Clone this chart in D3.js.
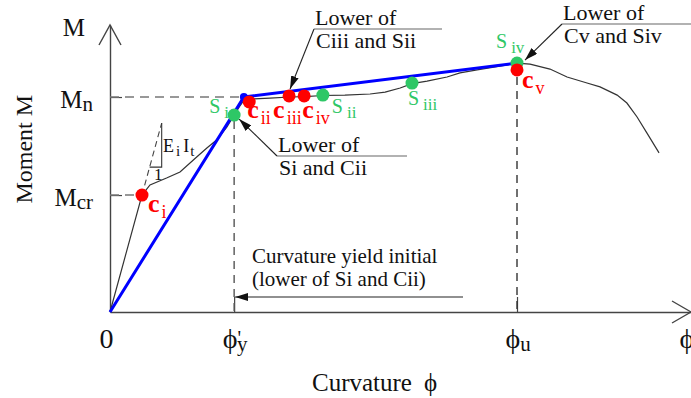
<!DOCTYPE html>
<html>
<head>
<meta charset="utf-8">
<script src="https://cdn.jsdelivr.net/npm/d3@7"></script>
<style>
  body { margin: 0; background: #fff; }
  svg { display: block; }
  svg text { font-family: "Liberation Serif", "DejaVu Serif", "Times New Roman", serif; }
</style>
</head>
<body>
<svg id="chart" width="691" height="398"></svg>
<script>
// Moment–curvature response of the section, normalised by φu (curvature) and Mn (moment)
const curvePhi = [0, 0.0786, 0.0983, 0.139, 0.172, 0.213, 0.238, 0.262, 0.287, 0.305, 0.318,
  0.327, 0.351, 0.393, 0.442, 0.479, 0.523, 0.577, 0.639, 0.676, 0.713, 0.742, 0.779, 0.828,
  0.860, 0.902, 0.958, 1.0, 1.032, 1.081, 1.123, 1.172, 1.204, 1.246, 1.270, 1.295, 1.319, 1.349];
const curveM = [0, 0.544, 0.591, 0.623, 0.651, 0.721, 0.763, 0.800, 0.860, 0.916, 0.955,
  0.980, 0.991, 0.995, 1.000, 1.002, 1.007, 1.009, 1.014, 1.023, 1.042, 1.062, 1.074, 1.093,
  1.112, 1.126, 1.144, 1.158, 1.153, 1.130, 1.093, 1.065, 1.047, 1.009, 0.972, 0.907, 0.833, 0.740];

// Idealised bilinear response
const idealPhi = [0, 0.329, 1.0];
const idealM = [0, 1.0, 1.158];

// Concrete limit states (red) and steel limit states (green)
const concreteNames = ["i", "ii", "iii", "iv", "v"];
const concretePhi = [0.0786, 0.342, 0.440, 0.477, 1.0];
const concreteM = [0.544, 0.977, 1.005, 1.005, 1.126];
const steelNames = ["i", "ii", "iii", "iv"];
const steelPhi = [0.305, 0.523, 0.742, 1.0];
const steelM = [0.916, 1.009, 1.065, 1.158];

// Axis ticks
const xTickValues = [0, 0.305, 1.0, 1.4275];
const xTickBase = ["0", "ϕ", "ϕ", "ϕ"];
const xTickPrime = ["", "'", "", ""];
const xTickSub = ["", "y", "u", ""];
const yTickValues = [0.544, 1.0, 1.335];
const yTickBase = ["M", "M", "M"];
const yTickSub = ["cr", "n", ""];

const RED = "#ff0000", GREEN = "#2ec766", BLUE = "#0000ff";

const svg = d3.select("#chart");
const x = d3.scaleLinear().domain([0, 1.4275]).range([110, 691]);
const y = d3.scaleLinear().domain([0, 1.335]).range([312, 25]);

const defs = svg.append("defs");
defs.append("marker").attr("id", "head")
  .attr("viewBox", "0 0 13 8").attr("refX", 13).attr("refY", 4)
  .attr("markerWidth", 13).attr("markerHeight", 8)
  .attr("markerUnits", "userSpaceOnUse").attr("orient", "auto")
  .append("path").attr("d", "M0,0 L13,4 L0,8 Z").attr("fill", "#111");

// ---- axes ----
const xAxis = d3.axisBottom(x).tickValues(xTickValues).tickSizeInner(-15).tickSizeOuter(0).tickFormat("");
const gx = svg.append("g").attr("transform", `translate(0,${y(0)})`).call(xAxis).attr("font-family", null);
const yAxis = d3.axisLeft(y).tickValues(yTickValues).tickSizeInner(-12).tickSizeOuter(0).tickFormat("");
const gy = svg.append("g").attr("transform", `translate(${x(0)},0)`).call(yAxis).attr("font-family", null);
[gx, gy].forEach(g => {
  g.select(".domain").attr("stroke", "#444").attr("stroke-width", 1.4);
  g.selectAll(".tick line").attr("stroke", "#444").attr("stroke-width", 1.2);
});
gx.selectAll(".tick").filter((d, i) => i === 0 || i === xTickValues.length - 1).select("line").remove();
gy.selectAll(".tick").filter((d, i) => i === yTickValues.length - 1).select("line").remove();

// x tick labels
gx.selectAll(".tick text").each(function (d, i) {
  const t = d3.select(this).attr("y", 36).attr("dy", null)
    .attr("font-size", 28).attr("fill", "#111")
    .attr("text-anchor", i === 0 ? "end" : "start")
    .attr("x", i === 0 ? 3 : -12);
  t.text(null);
  t.append("tspan").text(xTickBase[i]);
  if (xTickPrime[i]) t.append("tspan").attr("font-size", 20).attr("dy", -3).text(xTickPrime[i]);
  if (xTickSub[i]) t.append("tspan").attr("font-size", 21)
    .attr("dx", xTickPrime[i] ? -4 : 0).attr("dy", xTickPrime[i] ? 6 : 3).text(xTickSub[i]);
});

// y tick labels
gy.selectAll(".tick text").each(function (d, i) {
  const t = d3.select(this).attr("dy", null).attr("y", 10)
    .attr("font-size", 25).attr("fill", "#111")
    .attr("text-anchor", "end").attr("x", yTickSub[i] ? -17 : -25);
  t.text(null);
  t.append("tspan").text(yTickBase[i]);
  if (yTickSub[i]) t.append("tspan").attr("font-size", 21).attr("dy", 3).text(yTickSub[i]);
});

// axis arrowheads
svg.append("path")
  .attr("d", `M${x(0) - 11},${y(0) - 267} L${x(0)},${y(1.335)} L${x(0) + 11},${y(0) - 267}`)
  .attr("fill", "none").attr("stroke", "#444").attr("stroke-width", 1.4);
svg.append("path")
  .attr("d", `M${x(1.4275) - 19},${y(0) - 11} L${x(1.4275)},${y(0)} L${x(1.4275) - 19},${y(0) + 11}`)
  .attr("fill", "none").attr("stroke", "#444").attr("stroke-width", 1.4);

// axis titles
svg.append("text").attr("transform", `translate(32,${y(0.757)}) rotate(-90)`)
  .attr("text-anchor", "middle").attr("font-size", 24).attr("fill", "#111")
  .text("Moment M");
const xt = svg.append("text").attr("x", 312).attr("y", 391)
  .attr("font-size", 25).attr("fill", "#111");
xt.append("tspan").text("Curvature");
xt.append("tspan").attr("dx", 12).text("ϕ");

// ---- reference (dashed) lines ----
const guides = svg.append("g").attr("fill", "none").attr("stroke-dasharray", "9,6");
guides.append("line").attr("x1", x(0)).attr("x2", x(idealPhi[1])).attr("y1", y(1)).attr("y2", y(1))
  .attr("stroke", "#777").attr("stroke-width", 1.6);
guides.append("line").attr("x1", x(0)).attr("x2", x(concretePhi[0])).attr("y1", y(yTickValues[0])).attr("y2", y(yTickValues[0]))
  .attr("stroke", "#777").attr("stroke-width", 1.6);
guides.append("line").attr("x1", x(xTickValues[1])).attr("x2", x(xTickValues[1]))
  .attr("y1", y(steelM[0]) + 6).attr("y2", y(0))
  .attr("stroke", "#555").attr("stroke-width", 1.4).attr("stroke-dasharray", "8,6");
guides.append("line").attr("x1", x(1)).attr("x2", x(1))
  .attr("y1", y(concreteM[4]) + 7).attr("y2", y(0))
  .attr("stroke", "#333").attr("stroke-width", 1.4).attr("stroke-dasharray", "8,6");

// initial stiffness EiIt triangle
const k0 = concreteM[0] / concretePhi[0];
const triTop = 0.879, triBot = 0.674;
svg.append("line").attr("x1", x(concretePhi[0])).attr("y1", y(concreteM[0]))
  .attr("x2", x(triTop / k0)).attr("y2", y(triTop))
  .attr("stroke", "#444").attr("stroke-width", 1.1).attr("stroke-dasharray", "6,4");
svg.append("path")
  .attr("d", `M${x(triTop / k0)},${y(triTop)} V${y(triBot)} H${x(triBot / k0)}`)
  .attr("fill", "none").attr("stroke", "#333").attr("stroke-width", 1.1);
const ei = svg.append("text").attr("x", 163).attr("y", 152)
  .attr("font-size", 18).attr("fill", "#111");
ei.append("tspan").text("E");
ei.append("tspan").attr("dx", 2).attr("dy", 4).attr("font-size", 15).text("i");
ei.append("tspan").attr("dx", 3).attr("dy", -4).text("I");
ei.append("tspan").attr("dx", 1).attr("dy", 4).attr("font-size", 15).text("t");
svg.append("text").attr("x", 154).attr("y", 180)
  .attr("font-size", 17).attr("fill", "#111").text("1");

// ---- moment-curvature curve ----
const line = d3.line().x(d => x(d[0])).y(d => y(d[1]));
svg.append("path").datum(d3.zip(curvePhi, curveM))
  .attr("d", line).attr("fill", "none").attr("stroke", "#333").attr("stroke-width", 1.2);

// ---- bilinear idealisation ----
svg.append("path").datum(d3.zip(idealPhi, idealM))
  .attr("d", line).attr("fill", "none").attr("stroke", BLUE).attr("stroke-width", 3);
svg.append("circle").attr("cx", x(idealPhi[1])).attr("cy", y(idealM[1])).attr("r", 4).attr("fill", BLUE);

// ---- limit-state points ----
svg.append("g").selectAll("circle").data(d3.zip(steelPhi, steelM)).join("circle")
  .attr("cx", d => x(d[0])).attr("cy", d => y(d[1])).attr("r", 6.5).attr("fill", GREEN);
svg.append("g").selectAll("circle").data(d3.zip(concretePhi, concreteM)).join("circle")
  .attr("cx", d => x(d[0])).attr("cy", d => y(d[1])).attr("r", 6.5).attr("fill", RED);

// label offsets from each marker [dx, dy]
const concreteLabelOffset = [[6, 17], [-2, 16], [-16, 22], [-2, 22], [5, 18]];
const steelLabelOffset = [[-25, -2], [9, 18], [-4, 22], [-21, -15]];

concreteNames.forEach((n, i) => {
  const t = svg.append("text")
    .attr("x", x(concretePhi[i]) + concreteLabelOffset[i][0])
    .attr("y", y(concreteM[i]) + concreteLabelOffset[i][1])
    .attr("fill", RED);
  t.append("tspan").attr("font-size", 26).attr("font-weight", "bold").text("c");
  t.append("tspan").attr("font-size", 18).attr("dx", 2).attr("dy", 6).text(n);
});
steelNames.forEach((n, i) => {
  const t = svg.append("text")
    .attr("x", x(steelPhi[i]) + steelLabelOffset[i][0])
    .attr("y", y(steelM[i]) + steelLabelOffset[i][1])
    .attr("fill", GREEN);
  t.append("tspan").attr("font-size", 20).text("S");
  t.append("tspan").attr("font-size", 17).attr("dx", 4).attr("dy", 5).text(n);
});

// ---- callouts ----
function callout(lines, tx, ty, ruleEnd, tip) {
  const g = svg.append("g");
  g.append("text").attr("x", tx + 1).attr("y", ty - 4)
    .attr("font-size", 22).attr("fill", "#111").text(lines[0]);
  g.append("text").attr("x", tx + 2).attr("y", ty + 19)
    .attr("font-size", 22).attr("fill", "#111").text(lines[1]);
  g.append("line").attr("x1", tx).attr("x2", ruleEnd).attr("y1", ty).attr("y2", ty)
    .attr("stroke", "#666").attr("stroke-width", 1.1);
  g.append("line").attr("x1", tx).attr("y1", ty).attr("x2", tip[0]).attr("y2", tip[1])
    .attr("stroke", "#222").attr("stroke-width", 1.1).attr("marker-end", "url(#head)");
}
callout(["Lower of", "Ciii and Sii"], 314, 29, 442, [x(concretePhi[2]) + 1, y(concreteM[2]) - 7]);
callout(["Lower of", "Si and Cii"], 277, 156, 407, [x(steelPhi[0]) + 5, y(steelM[0]) + 4]);
callout(["Lower of", "Cv and Siv"], 562, 24, 691, [x(steelPhi[3]) + 8, y(steelM[3]) - 3]);

// yield curvature note
svg.append("text").attr("x", 252).attr("y", 263)
  .attr("font-size", 21).attr("fill", "#111").text("Curvature yield initial");
svg.append("text").attr("x", 252).attr("y", 286)
  .attr("font-size", 21).attr("fill", "#111").text("(lower of Si and Cii)");
svg.append("line").attr("x1", 463).attr("y1", 297).attr("x2", x(xTickValues[1]) + 1).attr("y2", 297)
  .attr("stroke", "#222").attr("stroke-width", 1.1).attr("marker-end", "url(#head)");
</script>
</body>
</html>
